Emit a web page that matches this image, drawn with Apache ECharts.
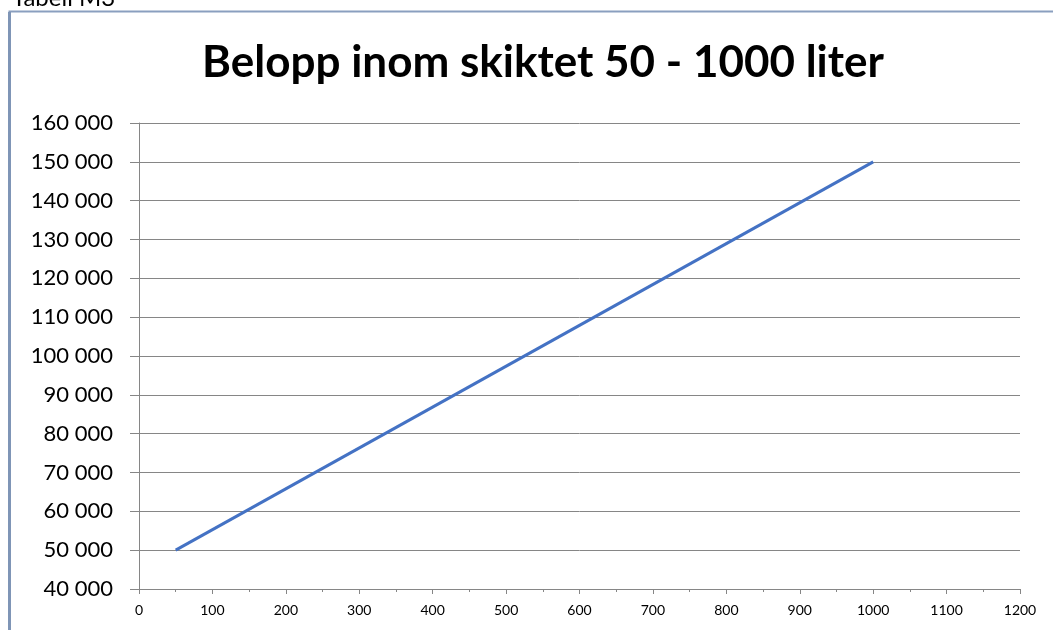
<!DOCTYPE html>
<html>
<head>
<meta charset="utf-8">
<script src="https://cdn.jsdelivr.net/npm/echarts@6/dist/echarts.min.js"></script>
<style>
  html, body { margin: 0; padding: 0; background: #fff; }
  #chart { width: 1053px; height: 630px; }
</style>
</head>
<body>
<div id="chart"></div>
<script>
// liter -> belopp
const liters = [50, 1000]
const amounts = [50000, 150000]
const titleText = 'Belopp inom skiktet 50 - 1000 liter'
const captionText = 'Tabell M3'

const font = 'Lato, "Open Sans", sans-serif'
const myChart = echarts.init(document.getElementById('chart'))

// 40 000-format med mellanslag
function fmt(v) {
  return String(v).replace(/\B(?=(\d{3})+(?!\d))/g, ' ')
}

const option = {
  animation: false,
  title: {
    text: titleText,
    left: 538,
    top: 36,
    textAlign: 'center',
    textStyle: {
      fontFamily: font,
      fontWeight: 'bold',
      fontSize: 44,
      color: '#000'
    }
  },
  graphic: [
    {
      type: 'rect',
      shape: { x: 9.5, y: 11.5, width: 1060, height: 640 },
      style: { fill: 'none', stroke: '#8a9fbf', lineWidth: 2 },
      silent: true
    },
    {
      type: 'rect',
      shape: { x: 8, y: 12, width: 3, height: 630 },
      style: { fill: '#7f95b6' },
      silent: true
    },
    {
      type: 'text',
      x: 12,
      y: 10,
      style: {
        text: captionText,
        fontFamily: font,
        fontSize: 24,
        fill: '#000',
        verticalAlign: 'bottom'
      },
      silent: true
    }
  ],
  grid: {
    left: 139,
    right: 33,
    top: 123,
    bottom: 41,
    containLabel: false
  },
  xAxis: {
    type: 'value',
    min: 0,
    max: 1200,
    interval: 100,
    axisLine: { show: true, lineStyle: { color: '#868686', width: 1 } },
    axisTick: { show: true, length: 5, lineStyle: { color: '#868686' } },
    minorTick: { show: true, splitNumber: 2, length: 3, lineStyle: { color: '#868686' } },
    splitLine: { show: false },
    axisLabel: {
      color: '#000',
      fontFamily: font,
      fontSize: 14,
      margin: 14,
      formatter: v => String(v)
    }
  },
  yAxis: {
    type: 'value',
    min: 40000,
    max: 160000,
    interval: 10000,
    axisLine: { show: true, lineStyle: { color: '#868686', width: 1 } },
    axisTick: { show: true, length: 9, lineStyle: { color: '#868686' } },
    splitLine: { show: true, lineStyle: { color: '#868686', width: 1 } },
    axisLabel: {
      color: '#000',
      fontFamily: font,
      fontSize: 22,
      margin: 26,
      formatter: fmt
    }
  },
  series: [
    {
      type: 'line',
      data: liters.map((x, i) => [x, amounts[i]]),
      showSymbol: false,
      symbol: 'none',
      lineStyle: { color: '#4472c4', width: 3 }
    }
  ]
}

option && myChart.setOption(option)
</script>
</body>
</html>
